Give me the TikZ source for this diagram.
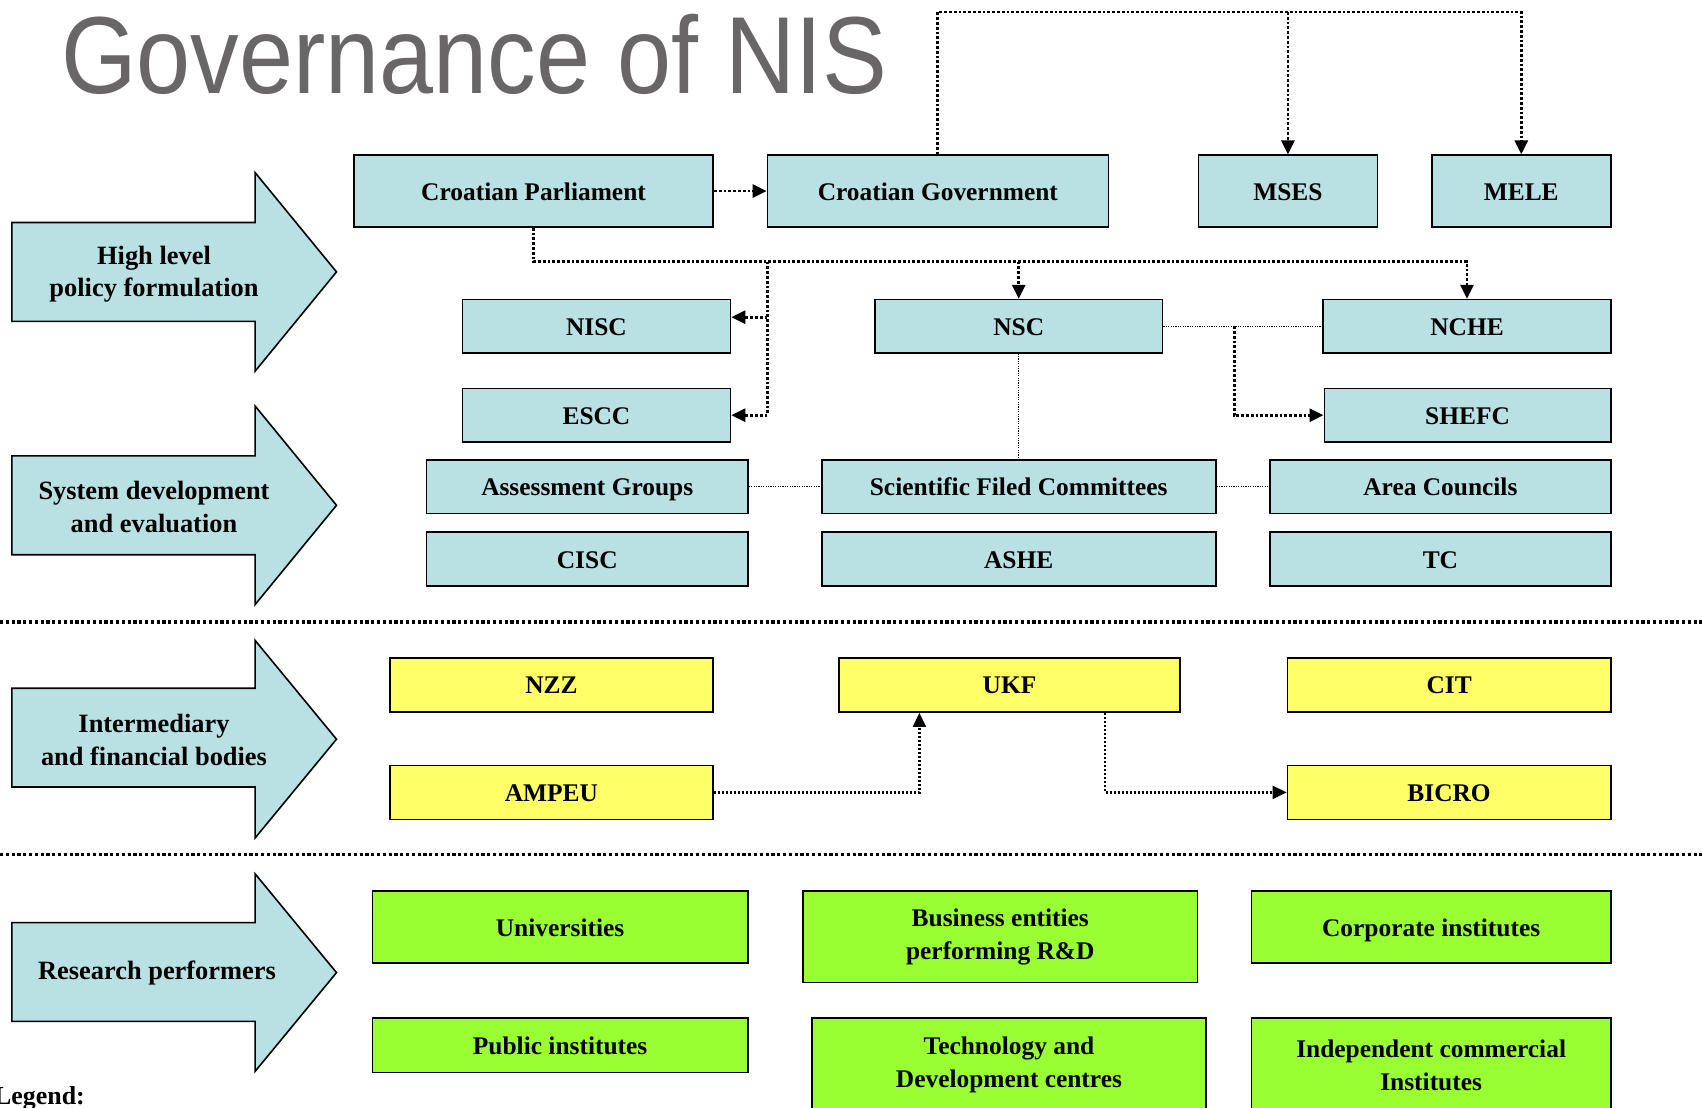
\documentclass[tikz,border=0pt]{standalone}
\usepackage{fontspec}
\setmainfont{Liberation Serif}
\newfontfamily\titlefont{Liberation Sans}
\usetikzlibrary{arrows.meta}
\definecolor{lblue}{RGB}{185,224,227}
\definecolor{lyellow}{RGB}{255,255,102}
\definecolor{lgreen}{RGB}{153,255,51}
\definecolor{titlegray}{RGB}{104,102,102}
\tikzset{
 box/.style={draw=black, line width=1.6bp, inner sep=0pt, align=center, text height=19bp, text depth=1bp, font=\bfseries\fontsize{25.5}{32.6}\selectfont},
 twoline/.style={text height={}, text depth={}},
 bluebox/.style={box, fill=lblue},
 yellowbox/.style={box, fill=lyellow},
 greenbox/.style={box, fill=lgreen},
 corners/.style n args={4}{at={({(#1+#3)/2},{(#2+#4)/2})}, minimum width={(#3-#1)*1bp}, minimum height={(#4-#2)*1bp}},
 conn/.style={line width=2.8bp, dash pattern=on 2.8bp off 2bp},
 medconn/.style={line width=2.2bp, dash pattern=on 2.2bp off 1.8bp},
 thindot/.style={line width=1.2bp, dash pattern=on 1.2bp off 1.2bp},
 sepline/.style={line width=3.2bp, dash pattern=on 3.2bp off 2.6bp},
 tip/.style={-{Triangle[length=14bp,width=13bp]}},
 blockarrow/.style={draw=black, line width=1.6bp, fill=lblue, line join=miter},
 arrowtext/.style={align=center, inner sep=0pt, font=\bfseries\fontsize{26.5}{32.6}\selectfont},
}
\newcommand\blkarrow[4]{%
 \filldraw[blockarrow] (11.9,#2) -- (255.1,#2) -- (255.1,#1) -- (336.5,{(#1+#4)/2}) -- (255.1,#4) -- (255.1,#3) -- (11.9,#3) -- cycle;}

\begin{document}
\begin{tikzpicture}[x=1bp,y=-1bp]
\useasboundingbox (0,0) rectangle (1702,1107);

% title
\node[anchor=base west, inner sep=0pt, text=titlegray] (title) at (61,93)
  {\titlefont\fontsize{110}{116}\selectfont\resizebox{826bp}{\height}{Governance of NIS}};

% block arrows
\blkarrow{172.6}{222.5}{321.3}{371.2}
\blkarrow{406}{455.9}{554.7}{604.6}
\blkarrow{640.4}{688.2}{787}{838}
\blkarrow{873.8}{922.6}{1021.4}{1071.4}
\node[arrowtext] (a1) at (154,274) {High level\\policy formulation};
\node[arrowtext] (a2) at (154,507) {System development\\and evaluation};
\node[arrowtext] (a3) at (154,740) {Intermediary\\and financial bodies};
\node[arrowtext] (a4) at (157,973) {Research performers};

% top row
\node[bluebox, corners={353.9}{155.2}{713.2}{226.9}] (cp) {Croatian Parliament};
\node[bluebox, corners={767.4}{155.2}{1108.3}{226.9}] (cg) {Croatian Government};
\node[bluebox, corners={1198.3}{155.2}{1377.5}{226.9}] (mses) {MSES};
\node[bluebox, corners={1431.7}{155.2}{1610.8}{226.9}] (mele) {MELE};
% row 2
\node[bluebox, corners={462.4}{299.6}{730.5}{352.8}] (nisc) {NISC};
\node[bluebox, corners={874.9}{299.6}{1162.5}{352.8}] (nsc) {NSC};
\node[bluebox, corners={1323.2}{299.6}{1610.8}{352.8}] (nche) {NCHE};
% row 3
\node[bluebox, corners={462.4}{388.6}{730.5}{441.8}] (escc) {ESCC};
\node[bluebox, corners={1324.3}{388.6}{1610.8}{441.8}] (shefc) {SHEFC};
% row 4
\node[bluebox, corners={426.6}{460.2}{747.9}{513.4}] (ag) {Assessment Groups};
\node[bluebox, corners={821.7}{460.2}{1215.7}{513.4}] (sfc) {Scientific Filed Committees};
\node[bluebox, corners={1270}{460.2}{1610.8}{513.4}] (ac) {Area Councils};
% row 5
\node[bluebox, corners={426.6}{531.9}{747.9}{586.1}] (cisc) {CISC};
\node[bluebox, corners={821.7}{531.9}{1215.7}{586.1}] (ashe) {ASHE};
\node[bluebox, corners={1270}{531.9}{1610.8}{586.1}] (tc) {TC};

% yellow
\node[yellowbox, corners={389.7}{657.8}{713.2}{712.1}] (nzz) {NZZ};
\node[yellowbox, corners={839.1}{657.8}{1179.9}{712.1}] (ukf) {UKF};
\node[yellowbox, corners={1287.4}{657.8}{1610.8}{712.1}] (cit) {CIT};
\node[yellowbox, corners={389.7}{765.3}{713.2}{819.5}] (ampeu) {AMPEU};
\node[yellowbox, corners={1287.4}{765.3}{1610.8}{819.5}] (bicro) {BICRO};

% green
\node[greenbox, corners={372.3}{891.2}{747.9}{962.8}] (uni) {Universities};
\node[greenbox, twoline, corners={803.2}{891.2}{1197.3}{982.3}] (bus) {Business entities\\performing R\&D};
\node[greenbox, corners={1251.5}{891.2}{1610.8}{962.8}] (corp) {Corporate institutes};
\node[greenbox, corners={372.3}{1018.2}{747.9}{1072.4}] (pub) {Public institutes};
\node[greenbox, twoline, corners={811.9}{1018.2}{1206}{1112}] (tech) {Technology and\\Development centres};
\node[greenbox, twoline, corners={1251.5}{1018.2}{1610.8}{1112}] (indep) {Independent commercial\\Institutes};

% separators
\coordinate (s1l) at (0,622);
\coordinate (s1r) at (1702,622);
\coordinate (s2l) at (0,854.3);
\coordinate (s2r) at (1702,854.3);
\draw[sepline] (s1l) -- (s1r);
\draw[sepline] (s2l) -- (s2r);

% connectors
\draw[conn, tip] (cp.east) -- (cg.west);
\coordinate (tl) at (0,11.9);
\draw[conn, tip] (cg.north) -- (cg.north |- tl) -- (mele.north |- tl) -- (mele.north);
\draw[conn, tip] (mses.north |- tl) -- (mses.north);

\coordinate (hl) at (0,261.6);
\draw[conn, tip] (cp.south) -- (cp.south |- hl) -- (nche.north |- hl) -- (nche.north);
\draw[conn, tip] (nsc.north |- hl) -- (nsc.north);
\coordinate (bx) at (767.4,0);
\coordinate (niscin) at ([yshift=9bp]nisc.east);
\draw[conn, tip] (bx |- hl) -- (bx |- escc.east) -- (escc.east);
\draw[conn, tip] (bx |- niscin) -- (niscin);

\draw[thindot] (nsc.east) -- (nche.west);
\coordinate (bx2) at (1234.2,0);
\draw[conn, tip] (bx2 |- nsc.east) |- (shefc.west);
\draw[thindot] (nsc.south) -- (sfc.north);
\draw[thindot] (ag.east) -- (sfc.west);
\draw[thindot] (sfc.east) -- (ac.west);

\coordinate (ax) at (919.4,0);
\draw[medconn, tip] (ampeu.east) -| (ax |- ukf.south);
\coordinate (ux) at (1105,0);
\draw[medconn, tip] (ux |- ukf.south) |- (bicro.west);

% legend
\node[anchor=base west, inner sep=0pt, font=\bfseries\fontsize{26}{30}\selectfont] (legend) at (-6,1104) {Legend:};
\end{tikzpicture}
\end{document}
